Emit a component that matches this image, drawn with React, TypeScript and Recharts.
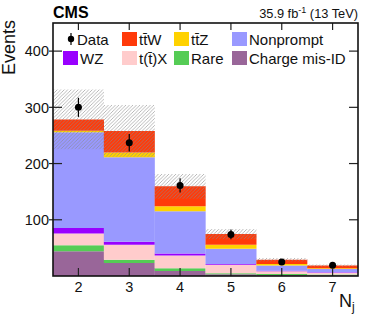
import { Bar, ComposedChart, ErrorBar, Line, XAxis, YAxis } from 'recharts';

const NJ = ['2', '3', '4', '5', '6', '7'];
const CHARGE_MISID = [44, 23, 9, 3, 2, 1.5];
const RARE = [10.5, 6, 5, 2, 1.5, 1];
const TTX = [21, 26.5, 22.5, 15, 5, 3.5];
const WZ = [10, 5.5, 3.5, 1.5, 1, 0.5];
const NONPROMPT = [170, 150, 75, 27, 9, 6];
const TTZ = [3, 8.5, 9, 7, 3, 1.5];
const TTW = [20, 38.5, 35.5, 19, 7.5, 4.5];
const UNC = [53, 46, 22, 9, 3, 2];
const DATA = [300, 237, 161, 74, 25, 19];
const DATA_ERR = [17, 15.4, 12.7, 8.6, 5, 4.4];
const Y_TICKS = [100, 200, 300, 400];

const W = 374;
const H = 319;
const PLOT = { left: 53, top: 23, right: 358, bottom: 276 };
const FONT = '"Liberation Sans", Arial, Helvetica, sans-serif';

const SERIES = [
  { key: 'chargeMisId', label: 'Charge mis-ID', color: '#996699', values: CHARGE_MISID },
  { key: 'rare', label: 'Rare', color: '#55cc55', values: RARE },
  { key: 'ttx', label: 't(t\u0304)X', color: '#ffcccc', values: TTX },
  { key: 'wz', label: 'WZ', color: '#9900ff', values: WZ },
  { key: 'nonprompt', label: 'Nonprompt', color: '#9999ff', values: NONPROMPT },
  { key: 'ttz', label: 'tt\u0304Z', color: '#ffd200', values: TTZ },
  { key: 'ttw', label: 'tt\u0304W', color: '#ff3a0a', values: TTW },
];

const rows = NJ.map((nj, i) => {
  const row: Record<string, any> = { nj };
  let total = 0;
  SERIES.forEach((s) => {
    row[s.key] = s.values[i];
    total += s.values[i];
  });
  row.band = [total - UNC[i], total + UNC[i]];
  row.data = DATA[i];
  row.dataErr = DATA_ERR[i];
  return row;
});

// legend layout: entry id, marker x, row y, text x
const LEGEND = [
  { id: 'data', label: 'Data', x: 63, y: 39, tx: 77 },
  { id: 'ttw', x: 122, y: 39, tx: 139 },
  { id: 'ttz', x: 174, y: 39, tx: 191 },
  { id: 'nonprompt', x: 232, y: 39, tx: 249 },
  { id: 'wz', x: 63, y: 58, tx: 80 },
  { id: 'ttx', x: 122, y: 58, tx: 139 },
  { id: 'rare', x: 174, y: 58, tx: 191 },
  { id: 'chargeMisId', x: 232, y: 58, tx: 249 },
];

function YTick(props: any) {
  const { x, y, payload } = props;
  return (
    <g>
      <line x1={PLOT.left - 4} x2={PLOT.left + 9} y1={y} y2={y} stroke="#222" strokeWidth={1.2} />
      <line x1={PLOT.right - 9} x2={PLOT.right} y1={y} y2={y} stroke="#222" strokeWidth={1.2} />
      <text x={x} y={y} dy="0.36em" textAnchor="end" fontSize={14.5} fill="#111" fontFamily={FONT}>
        {payload.value}
      </text>
    </g>
  );
}

function XTick(props: any) {
  const { x, payload } = props;
  return (
    <g>
      <line x1={x} x2={x} y1={PLOT.bottom} y2={PLOT.bottom - 8} stroke="#222" strokeWidth={1.2} />
      <line x1={x} x2={x} y1={PLOT.top} y2={PLOT.top + 7} stroke="#222" strokeWidth={1.2} />
      <text x={x} y={PLOT.bottom + 16} textAnchor="middle" fontSize={14.5} fill="#111" fontFamily={FONT}>
        {payload.value}
      </text>
    </g>
  );
}

export default function App() {
  const byKey: Record<string, (typeof SERIES)[number]> = {};
  SERIES.forEach((s) => (byKey[s.key] = s));

  return (
    <div style={{ position: 'absolute', left: 0, top: 0, width: W, height: H, background: '#fff' }}>
      <ComposedChart
        width={W}
        height={H}
        data={rows}
        barCategoryGap={0}
        barGap={0}
        margin={{ top: PLOT.top, right: W - PLOT.right, bottom: 13, left: 8 }}
      >
        <defs>
          <pattern id="hatch" patternUnits="userSpaceOnUse" width={3.5} height={3.5}>
            <path d="M-1,1 l2,-2 M0,3.5 l3.5,-3.5 M2.5,4.5 l2,-2" stroke="#8a8a8a" strokeWidth={0.6} />
          </pattern>
        </defs>
        <XAxis
          dataKey="nj"
          type="category"
          height={30}
          tickSize={0}
          axisLine={false}
          tickLine={false}
          tick={<XTick />}
          interval={0}
        />
        <XAxis xAxisId="h" dataKey="nj" type="category" hide />
        <YAxis
          domain={[0, 450]}
          ticks={Y_TICKS}
          width={45}
          tickSize={0}
          tickMargin={4}
          axisLine={false}
          tickLine={false}
          tick={<YTick />}
          interval={0}
        />
        {SERIES.map((s) => (
          <Bar key={s.key} dataKey={s.key} stackId="mc" fill={s.color} isAnimationActive={false} />
        ))}
        <Bar xAxisId="h" dataKey="band" fill="url(#hatch)" isAnimationActive={false} />
        <Line
          dataKey="data"
          stroke="none"
          dot={{ r: 3.5, fill: '#000', stroke: '#000', strokeWidth: 0 }}
          isAnimationActive={false}
        >
          <ErrorBar dataKey="dataErr" width={0} stroke="#000" strokeWidth={1.2} direction="y" />
        </Line>
      </ComposedChart>
      <svg
        width={W}
        height={H}
        style={{ position: 'absolute', left: 0, top: 0, pointerEvents: 'none' }}
        fontFamily={FONT}
      >
        <rect
          x={PLOT.left}
          y={PLOT.top}
          width={PLOT.right - PLOT.left}
          height={PLOT.bottom - PLOT.top}
          fill="none"
          stroke="#111"
          strokeWidth={1.6}
        />
        <text x={PLOT.left} y={18} fontSize={16} fontWeight="bold" fill="#000">
          CMS
        </text>
        <text x={PLOT.right} y={18} fontSize={12.8} textAnchor="end" fill="#111">
          35.9 fb<tspan fontSize={9} dy={-5}>-1</tspan>
          <tspan dy={5}> (13 TeV)</tspan>
        </text>
        <text transform="rotate(-90)" x={-20} y={15} fontSize={18} textAnchor="end" fill="#111">
          Events
        </text>
        <text x={PLOT.right - 6} y={307} fontSize={18} textAnchor="end" fill="#111">
          N
        </text>
        <text x={PLOT.right - 6} y={311} fontSize={12} fill="#111">
          j
        </text>
        {LEGEND.map((e) => {
          if (e.id === 'data') {
            return (
              <g key={e.id}>
                <line x1={e.x + 8} x2={e.x + 8} y1={e.y - 6} y2={e.y + 6} stroke="#000" strokeWidth={1.2} />
                <circle cx={e.x + 8} cy={e.y} r={3.2} fill="#000" />
                <text x={e.tx} y={e.y + 5.5} fontSize={15} fill="#111">
                  {e.label}
                </text>
              </g>
            );
          }
          const s = byKey[e.id];
          return (
            <g key={e.id}>
              <rect x={e.x} y={e.y - 7} width={15} height={14} fill={s.color} />
              <text x={e.tx} y={e.y + 5.5} fontSize={15} fill="#111">
                {s.label}
              </text>
            </g>
          );
        })}
      </svg>
    </div>
  );
}
